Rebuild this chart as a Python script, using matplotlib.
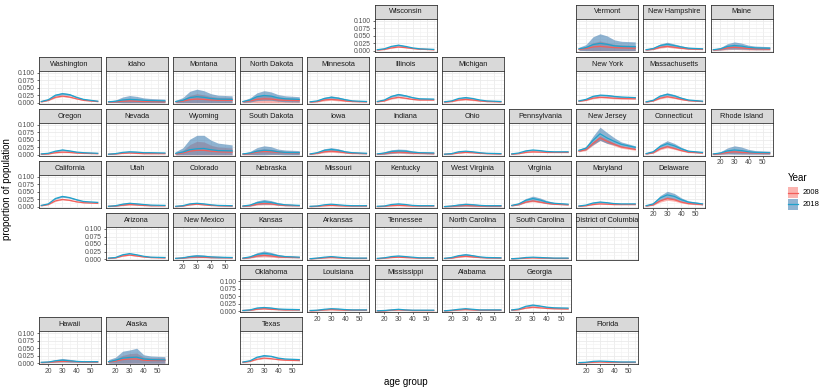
import matplotlib
matplotlib.use('Agg')
import matplotlib.pyplot as plt
from matplotlib.patches import Rectangle
from matplotlib.lines import Line2D
from matplotlib.ticker import FormatStrFormatter

plt.rcParams['font.family'] = ['Liberation Sans', 'DejaVu Sans']

# ---------------- data (values in thousandths of population) ----------------
ages = [15, 20, 25, 30, 35, 40, 45, 55]
years = ['2008', '2018']

# (row, col) of each state in the geographic grid
grid_pos = {
    'Wisconsin': (0, 5), 'Vermont': (0, 8), 'New Hampshire': (0, 9), 'Maine': (0, 10),
    'Washington': (1, 0), 'Idaho': (1, 1), 'Montana': (1, 2), 'North Dakota': (1, 3),
    'Minnesota': (1, 4), 'Illinois': (1, 5), 'Michigan': (1, 6), 'New York': (1, 8),
    'Massachusetts': (1, 9),
    'Oregon': (2, 0), 'Nevada': (2, 1), 'Wyoming': (2, 2), 'South Dakota': (2, 3),
    'Iowa': (2, 4), 'Indiana': (2, 5), 'Ohio': (2, 6), 'Pennsylvania': (2, 7),
    'New Jersey': (2, 8), 'Connecticut': (2, 9), 'Rhode Island': (2, 10),
    'California': (3, 0), 'Utah': (3, 1), 'Colorado': (3, 2), 'Nebraska': (3, 3),
    'Missouri': (3, 4), 'Kentucky': (3, 5), 'West Virginia': (3, 6), 'Virginia': (3, 7),
    'Maryland': (3, 8), 'Delaware': (3, 9),
    'Arizona': (4, 1), 'New Mexico': (4, 2), 'Kansas': (4, 3), 'Arkansas': (4, 4),
    'Tennessee': (4, 5), 'North Carolina': (4, 6), 'South Carolina': (4, 7),
    'District of Columbia': (4, 8),
    'Oklahoma': (5, 3), 'Louisiana': (5, 4), 'Mississippi': (5, 5), 'Alabama': (5, 6),
    'Georgia': (5, 7),
    'Hawaii': (6, 0), 'Alaska': (6, 1), 'Texas': (6, 3), 'Florida': (6, 8),
}

mean_2008 = {
    'Wisconsin': [2, 4, 9, 12, 10, 7, 5, 3],
    'Vermont': [4, 7, 12, 14, 12, 10, 9, 8],
    'New Hampshire': [2, 5, 11, 14, 11, 8, 6, 4],
    'Maine': [2, 4, 9, 11, 9, 7, 6, 5],
    'Washington': [3, 8, 18, 22, 19, 13, 8, 4],
    'Idaho': [2, 3, 5, 6, 5, 4, 4, 3],
    'Montana': [3, 5, 10, 12, 11, 9, 8, 8],
    'North Dakota': [3, 6, 11, 13, 12, 9, 8, 7],
    'Minnesota': [2, 4, 9, 11, 9, 6, 4, 3],
    'Illinois': [3, 6, 14, 18, 15, 11, 9, 9],
    'Michigan': [2, 4, 9, 11, 9, 6, 4, 3],
    'New York': [5, 8, 15, 18, 17, 15, 14, 13],
    'Massachusetts': [2, 6, 15, 20, 16, 11, 7, 4],
    'Oregon': [2, 3, 7, 9, 8, 6, 5, 4],
    'Nevada': [2, 3, 5, 6, 5, 4, 4, 4],
    'Wyoming': [3, 6, 12, 15, 15, 12, 10, 9],
    'South Dakota': [2, 4, 9, 11, 10, 8, 7, 6],
    'Iowa': [2, 5, 10, 12, 10, 7, 5, 4],
    'Indiana': [2, 4, 8, 9, 8, 6, 5, 4],
    'Ohio': [2, 3, 6, 8, 7, 5, 4, 3],
    'Pennsylvania': [2, 4, 8, 10, 9, 8, 8, 8],
    'New Jersey': [12, 17, 38, 56, 45, 35, 26, 18],
    'Connecticut': [3, 7, 20, 27, 21, 14, 9, 6],
    'Rhode Island': [2, 4, 8, 10, 8, 7, 6, 5],
    'California': [4, 8, 20, 25, 22, 17, 14, 12],
    'Utah': [2, 3, 6, 8, 7, 5, 4, 4],
    'Colorado': [1, 3, 7, 9, 7, 5, 4, 3],
    'Nebraska': [2, 4, 9, 11, 10, 7, 5, 4],
    'Missouri': [1, 2, 4, 5, 4, 3, 3, 3],
    'Kentucky': [1, 2, 4, 5, 4, 3, 3, 3],
    'West Virginia': [1, 2, 4, 5, 4, 3, 3, 3],
    'Virginia': [4, 8, 16, 20, 16, 12, 9, 7],
    'Maryland': [2, 4, 8, 10, 9, 8, 8, 8],
    'Delaware': [3, 7, 20, 28, 24, 16, 11, 8],
    'Arizona': [2, 4, 10, 13, 10, 7, 5, 4],
    'New Mexico': [2, 3, 6, 7, 6, 5, 5, 4],
    'Kansas': [2, 5, 10, 12, 10, 7, 6, 5],
    'Arkansas': [1, 2, 4, 5, 4, 3, 2, 2],
    'Tennessee': [1, 3, 5, 6, 5, 4, 3, 3],
    'North Carolina': [2, 3, 7, 9, 7, 5, 4, 3],
    'South Carolina': [1, 2, 3, 4, 3, 3, 2, 2],
    'Oklahoma': [2, 3, 6, 8, 6, 5, 4, 4],
    'Louisiana': [1, 2, 4, 5, 4, 3, 3, 3],
    'Mississippi': [1, 1, 3, 4, 3, 2, 2, 2],
    'Alabama': [1, 2, 4, 5, 4, 3, 3, 3],
    'Georgia': [3, 5, 10, 13, 11, 9, 8, 7],
    'Hawaii': [2, 3, 5, 6, 6, 5, 4, 4],
    'Alaska': [4, 7, 12, 14, 14, 10, 9, 9],
    'Texas': [3, 6, 13, 17, 15, 12, 10, 9],
    'Florida': [1, 2, 3, 4, 3, 3, 3, 3],
}

mean_2018 = {
    'Wisconsin': [3, 6, 14, 18, 14, 9, 6, 4],
    'Vermont': [6, 10, 20, 24, 21, 16, 14, 13],
    'New Hampshire': [3, 7, 17, 21, 17, 12, 8, 6],
    'Maine': [3, 6, 14, 17, 15, 11, 9, 8],
    'Washington': [4, 10, 25, 30, 27, 18, 11, 5],
    'Idaho': [3, 5, 9, 11, 10, 8, 7, 6],
    'Montana': [4, 8, 17, 20, 18, 14, 12, 11],
    'North Dakota': [4, 9, 20, 24, 22, 16, 13, 11],
    'Minnesota': [3, 6, 14, 18, 15, 10, 6, 4],
    'Illinois': [4, 9, 21, 27, 23, 17, 13, 12],
    'Michigan': [3, 6, 14, 17, 14, 9, 6, 4],
    'New York': [6, 11, 21, 25, 24, 21, 19, 17],
    'Massachusetts': [3, 8, 22, 28, 23, 15, 9, 5],
    'Oregon': [3, 5, 12, 16, 13, 9, 7, 5],
    'Nevada': [2, 4, 8, 10, 9, 7, 7, 6],
    'Wyoming': [5, 9, 17, 20, 21, 17, 14, 13],
    'South Dakota': [3, 6, 12, 15, 14, 10, 8, 7],
    'Iowa': [3, 7, 15, 18, 15, 10, 7, 5],
    'Indiana': [3, 6, 11, 13, 12, 9, 7, 6],
    'Ohio': [2, 4, 10, 12, 10, 7, 5, 4],
    'Pennsylvania': [3, 6, 13, 16, 14, 11, 10, 10],
    'New Jersey': [15, 22, 48, 70, 56, 45, 35, 25],
    'Connecticut': [4, 10, 28, 37, 30, 20, 12, 8],
    'Rhode Island': [3, 6, 13, 16, 14, 10, 8, 7],
    'California': [5, 10, 28, 35, 31, 24, 18, 15],
    'Utah': [2, 4, 9, 12, 10, 8, 6, 5],
    'Colorado': [2, 4, 10, 12, 10, 7, 5, 4],
    'Nebraska': [3, 6, 14, 17, 15, 10, 7, 5],
    'Missouri': [2, 3, 7, 9, 7, 5, 4, 4],
    'Kentucky': [2, 3, 8, 10, 8, 5, 4, 4],
    'West Virginia': [1, 3, 6, 8, 7, 5, 4, 4],
    'Virginia': [5, 10, 22, 28, 23, 16, 12, 9],
    'Maryland': [3, 6, 13, 16, 14, 11, 10, 10],
    'Delaware': [4, 10, 30, 40, 35, 24, 16, 10],
    'Arizona': [3, 5, 14, 18, 14, 9, 6, 5],
    'New Mexico': [2, 4, 8, 10, 9, 7, 6, 5],
    'Kansas': [3, 7, 15, 19, 16, 11, 8, 6],
    'Arkansas': [1, 3, 6, 8, 6, 4, 3, 3],
    'Tennessee': [2, 4, 8, 10, 8, 6, 4, 4],
    'North Carolina': [2, 5, 11, 14, 11, 7, 5, 4],
    'South Carolina': [1, 2, 5, 6, 5, 4, 3, 3],
    'Oklahoma': [2, 4, 10, 12, 10, 7, 6, 5],
    'Louisiana': [2, 3, 6, 8, 7, 5, 4, 4],
    'Mississippi': [1, 2, 4, 6, 4, 3, 3, 3],
    'Alabama': [1, 3, 6, 8, 6, 4, 4, 4],
    'Georgia': [4, 7, 16, 20, 17, 13, 11, 10],
    'Hawaii': [3, 4, 8, 10, 8, 6, 5, 5],
    'Alaska': [5, 10, 17, 19, 20, 14, 12, 11],
    'Texas': [4, 8, 20, 25, 23, 17, 14, 12],
    'Florida': [2, 3, 6, 7, 6, 5, 4, 4],
}

# half-width of the uncertainty band
band_2008 = {
    'Wisconsin': [1, 1, 1, 1, 1, 1, 1, 1],
    'Vermont': [3, 6, 14, 18, 14, 11, 10, 9],
    'New Hampshire': [1, 2, 3, 3, 3, 2, 2, 1],
    'Maine': [2, 3, 6, 7, 6, 5, 4, 3],
    'Washington': [1, 1, 2, 2, 2, 1, 1, 1],
    'Idaho': [1, 2, 5, 6, 5, 4, 4, 3],
    'Montana': [3, 6, 14, 18, 15, 12, 10, 10],
    'North Dakota': [3, 5, 11, 14, 12, 9, 8, 7],
    'Minnesota': [1, 2, 3, 3, 3, 2, 1, 1],
    'Illinois': [1, 1, 2, 2, 2, 1, 1, 1],
    'Michigan': [1, 1, 2, 2, 2, 1, 1, 1],
    'New York': [1, 1, 2, 2, 2, 2, 2, 1],
    'Massachusetts': [1, 1, 2, 3, 2, 2, 1, 1],
    'Oregon': [1, 1, 1, 2, 1, 1, 1, 1],
    'Nevada': [1, 1, 1, 1, 1, 1, 1, 1],
    'Wyoming': [3, 8, 22, 30, 28, 20, 16, 14],
    'South Dakota': [2, 4, 8, 9, 8, 6, 5, 5],
    'Iowa': [1, 2, 3, 4, 3, 2, 2, 1],
    'Indiana': [1, 2, 4, 4, 4, 3, 2, 2],
    'Ohio': [1, 1, 1, 1, 1, 1, 1, 1],
    'Pennsylvania': [1, 1, 1, 2, 1, 1, 1, 1],
    'New Jersey': [2, 3, 6, 8, 7, 5, 4, 3],
    'Connecticut': [1, 2, 3, 4, 3, 2, 2, 1],
    'Rhode Island': [2, 3, 5, 6, 5, 4, 3, 3],
    'California': [1, 1, 1, 2, 1, 1, 1, 1],
    'Utah': [1, 1, 2, 2, 2, 1, 1, 1],
    'Colorado': [1, 1, 1, 1, 1, 1, 1, 1],
    'Nebraska': [1, 2, 3, 4, 3, 2, 2, 1],
    'Missouri': [1, 1, 1, 1, 1, 1, 1, 1],
    'Kentucky': [1, 1, 1, 1, 1, 1, 1, 1],
    'West Virginia': [1, 2, 3, 3, 3, 2, 2, 2],
    'Virginia': [1, 2, 2, 3, 2, 2, 1, 1],
    'Maryland': [1, 1, 1, 1, 1, 1, 1, 1],
    'Delaware': [1, 2, 4, 6, 5, 3, 2, 2],
    'Arizona': [1, 1, 1, 1, 1, 1, 1, 1],
    'New Mexico': [1, 1, 2, 3, 2, 2, 2, 1],
    'Kansas': [1, 2, 4, 5, 4, 3, 2, 2],
    'Arkansas': [1, 1, 1, 1, 1, 1, 1, 1],
    'Tennessee': [1, 1, 1, 1, 1, 1, 1, 1],
    'North Carolina': [1, 1, 2, 2, 2, 1, 1, 1],
    'South Carolina': [1, 1, 1, 1, 1, 1, 1, 1],
    'Oklahoma': [1, 1, 1, 2, 1, 1, 1, 1],
    'Louisiana': [1, 1, 1, 1, 1, 1, 1, 1],
    'Mississippi': [1, 1, 1, 1, 1, 1, 1, 1],
    'Alabama': [1, 1, 1, 1, 1, 1, 1, 1],
    'Georgia': [1, 1, 1, 2, 1, 1, 1, 1],
    'Hawaii': [1, 1, 2, 2, 2, 1, 1, 1],
    'Alaska': [3, 7, 14, 18, 20, 10, 9, 9],
    'Texas': [1, 1, 1, 2, 1, 1, 1, 1],
    'Florida': [1, 1, 1, 1, 1, 1, 1, 1],
}

band_2018 = {
    'Wisconsin': [1, 1, 2, 3, 2, 1, 1, 1],
    'Vermont': [5, 10, 26, 32, 28, 20, 17, 16],
    'New Hampshire': [2, 3, 5, 7, 5, 4, 3, 2],
    'Maine': [2, 4, 9, 12, 10, 7, 6, 5],
    'Washington': [1, 2, 3, 4, 3, 2, 2, 1],
    'Idaho': [2, 4, 10, 13, 11, 8, 7, 6],
    'Montana': [4, 9, 21, 25, 22, 16, 13, 12],
    'North Dakota': [3, 7, 13, 16, 14, 11, 10, 9],
    'Minnesota': [1, 2, 4, 5, 4, 3, 2, 1],
    'Illinois': [1, 2, 3, 4, 3, 2, 2, 2],
    'Michigan': [1, 1, 2, 3, 2, 2, 1, 1],
    'New York': [1, 2, 3, 3, 3, 3, 2, 2],
    'Massachusetts': [1, 2, 4, 5, 4, 3, 2, 1],
    'Oregon': [1, 1, 2, 3, 2, 2, 1, 1],
    'Nevada': [1, 1, 2, 2, 2, 1, 1, 1],
    'Wyoming': [6, 14, 35, 45, 44, 32, 25, 20],
    'South Dakota': [2, 5, 12, 15, 13, 9, 8, 7],
    'Iowa': [1, 2, 5, 6, 5, 3, 2, 2],
    'Indiana': [2, 4, 6, 6, 6, 4, 3, 3],
    'Ohio': [1, 1, 2, 2, 2, 1, 1, 1],
    'Pennsylvania': [1, 1, 2, 2, 2, 2, 1, 1],
    'New Jersey': [3, 5, 14, 22, 18, 12, 8, 5],
    'Connecticut': [2, 3, 7, 10, 8, 5, 3, 2],
    'Rhode Island': [2, 4, 10, 14, 12, 8, 6, 5],
    'California': [1, 1, 2, 3, 2, 2, 1, 1],
    'Utah': [1, 2, 3, 3, 3, 2, 2, 1],
    'Colorado': [1, 1, 2, 2, 2, 1, 1, 1],
    'Nebraska': [2, 3, 6, 8, 6, 4, 3, 2],
    'Missouri': [1, 1, 1, 2, 1, 1, 1, 1],
    'Kentucky': [1, 1, 2, 2, 2, 1, 1, 1],
    'West Virginia': [1, 2, 4, 5, 4, 3, 3, 3],
    'Virginia': [2, 3, 6, 8, 7, 5, 3, 2],
    'Maryland': [1, 1, 2, 3, 2, 2, 1, 1],
    'Delaware': [2, 3, 8, 12, 10, 6, 4, 3],
    'Arizona': [1, 1, 2, 2, 2, 1, 1, 1],
    'New Mexico': [1, 2, 4, 5, 4, 3, 3, 2],
    'Kansas': [2, 3, 6, 8, 6, 4, 3, 2],
    'Arkansas': [1, 1, 2, 2, 2, 1, 1, 1],
    'Tennessee': [1, 1, 2, 2, 2, 1, 1, 1],
    'North Carolina': [1, 2, 3, 4, 3, 2, 2, 1],
    'South Carolina': [1, 1, 1, 1, 1, 1, 1, 1],
    'Oklahoma': [1, 2, 3, 3, 3, 2, 2, 1],
    'Louisiana': [1, 1, 2, 2, 2, 1, 1, 1],
    'Mississippi': [1, 1, 1, 1, 1, 1, 1, 1],
    'Alabama': [1, 1, 2, 2, 2, 1, 1, 1],
    'Georgia': [1, 2, 2, 3, 2, 2, 2, 1],
    'Hawaii': [1, 2, 4, 6, 5, 3, 2, 2],
    'Alaska': [7, 10, 23, 25, 30, 14, 12, 11],
    'Texas': [1, 1, 2, 3, 2, 2, 1, 1],
    'Florida': [1, 1, 1, 1, 1, 1, 1, 1],
}

y_ticks = [0.0, 0.025, 0.05, 0.075, 0.1]
x_ticks = [20, 30, 40, 50]

# ---------------- styling ----------------
fill_colors = {'2008': '#F8766D', '2018': '#4682B4'}
fill_alpha = {'2008': 0.55, '2018': 0.6}
line_colors = {'2008': '#F35E5A', '2018': '#1FA2CC'}
means = {'2008': mean_2008, '2018': mean_2018}
bands = {'2008': band_2008, '2018': band_2018}

W, H = 830, 391
fig = plt.figure(figsize=(W / 100, H / 100), dpi=100)
fig.patch.set_facecolor('white')

PITCH_X, PITCH_Y = 67.2, 52.1
LEFT0, TOP0 = 38.5, 4.5
PW, STRIP_H, PANEL_H = 62.0, 14.0, 33.0

# leftmost per row / bottom per column get axis labels
left_of_row = {}
bottom_of_col = {}
for st, (r, c) in grid_pos.items():
    left_of_row[r] = min(left_of_row.get(r, 99), c)
    bottom_of_col[c] = max(bottom_of_col.get(c, -1), r)

def fx(px):
    return px / W

def fy(py):
    return 1 - py / H

border_c = '#333333'
for st, (r, c) in grid_pos.items():
    x0 = LEFT0 + PITCH_X * c
    top = TOP0 + PITCH_Y * r
    # strip
    sax = fig.add_axes([fx(x0), fy(top + STRIP_H), PW / W, STRIP_H / H])
    sax.set_facecolor('#D9D9D9')
    sax.set_xticks([]); sax.set_yticks([])
    for sp in sax.spines.values():
        sp.set_color(border_c); sp.set_linewidth(0.6)
    t = sax.text(0.5, 0.47, st, ha='center', va='center', fontsize=5.3,
                 color='#1A1A1A', transform=sax.transAxes)
    t.set_clip_on(True)

    # panel
    ax = fig.add_axes([fx(x0), fy(top + STRIP_H + PANEL_H), PW / W, PANEL_H / H])
    ax.set_xlim(13.0, 57.0)
    ax.set_ylim(-0.003, 0.107)
    ax.set_xticks(x_ticks)
    ax.set_xticks([15, 25, 35, 45, 55], minor=True)
    ax.set_yticks(y_ticks)
    ax.set_yticks([0.0125, 0.0375, 0.0625, 0.0875], minor=True)
    ax.yaxis.set_major_formatter(FormatStrFormatter('%.3f'))
    ax.grid(which='major', color='#EBEBEB', lw=0.6)
    ax.grid(which='minor', color='#F2F2F2', lw=0.4)
    ax.set_axisbelow(True)
    for sp in ax.spines.values():
        sp.set_color(border_c); sp.set_linewidth(0.6)
    ax.tick_params(which='minor', length=0)
    ax.tick_params(which='major', length=1.6, width=0.5, color=border_c,
                   labelsize=4.9, labelcolor='#4D4D4D', pad=1.0)
    show_y = (left_of_row[r] == c)
    show_x = (bottom_of_col[c] == r)
    if not show_y:
        ax.tick_params(axis='y', left=False, labelleft=False)
    if not show_x:
        ax.tick_params(axis='x', bottom=False, labelbottom=False)

    if st in mean_2008:
        for y in years:
            m = [v / 1000 for v in means[y][st]]
            hw = [v / 1000 for v in bands[y][st]]
            lo = [max(a - b, 0.0) for a, b in zip(m, hw)]
            hi = [a + b for a, b in zip(m, hw)]
            ax.fill_between(ages, lo, hi, color=fill_colors[y], alpha=fill_alpha[y],
                            lw=0, zorder=2)
        for y in years:
            m = [v / 1000 for v in means[y][st]]
            ax.plot(ages, m, color=line_colors[y], lw=0.9, zorder=3)

# axis titles
fig.text(fx(406), fy(382), 'age group', ha='center', va='center', fontsize=7, color='black')
fig.text(fx(7), fy(189), 'proportion of population', ha='center', va='center',
         rotation=90, fontsize=7, color='black')

# legend
fig.text(fx(788), fy(178), 'Year', ha='left', va='center', fontsize=7, color='black')
key_y = {'2008': 187, '2018': 199}
for y in years:
    ky = key_y[y]
    fig.add_artist(Rectangle((fx(788), fy(ky + 11)), 10 / W, 11 / H, transform=fig.transFigure,
                             facecolor=fill_colors[y], alpha=fill_alpha[y], lw=0))
    fig.add_artist(Line2D([fx(788), fx(798)], [fy(ky + 5.5), fy(ky + 5.5)],
                          transform=fig.transFigure, color=line_colors[y], lw=0.9))
    fig.text(fx(803), fy(ky + 5.5), y, ha='left', va='center', fontsize=5.5, color='black')

fig.savefig('out.png', dpi=100)
